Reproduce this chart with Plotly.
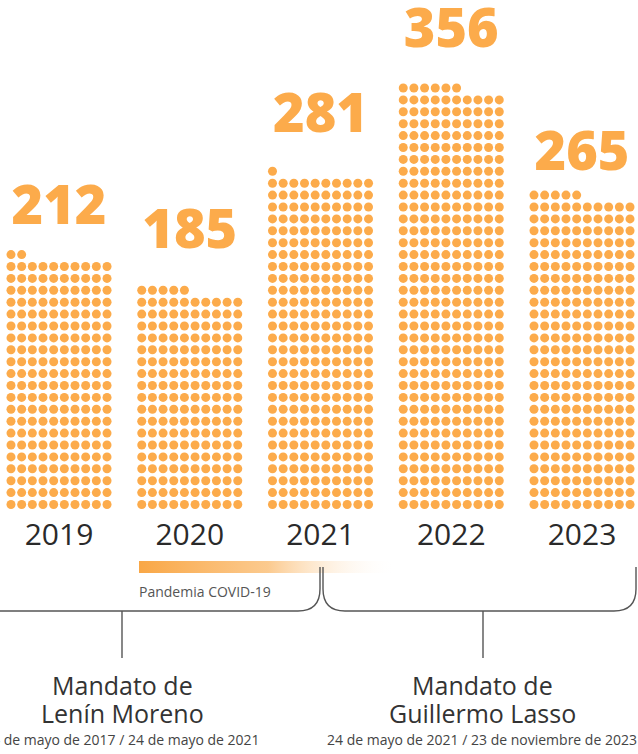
import plotly.graph_objects as go

# ---------------- data ----------------
years = ["2019", "2020", "2021", "2022", "2023"]
values = [212, 185, 281, 356, 265]
dots_per_row = 10
mandate_line1 = ["Mandato de", "Mandato de"]
mandate_line2 = ["Lenín Moreno", "Guillermo Lasso"]
mandate_dates = ["24 de mayo de 2017 / 24 de mayo de 2021",
                 "24 de mayo de 2021 / 23 de noviembre de 2023"]
pandemic_label = "Pandemia COVID-19"

# ---------------- layout constants (pixel canvas) ----------------
W, H = 638, 754
ORANGE = "#fcab4b"
group_x0, group_step = 59, 130.75
col_pitch, row_pitch = 10.67, 11.9
bottom_row_y = 504.5
label_gap = [44, 56, 53, 55, 39]   # distance from top dot row to value label centre
year_label_y = 537

fig = go.Figure()

# dots
for i, (yr, v) in enumerate(zip(years, values)):
    cx = group_x0 + i * group_step
    xs, ys = [], []
    for k in range(v):
        r, c = divmod(k, dots_per_row)
        xs.append(cx + (c - (dots_per_row - 1) / 2) * col_pitch)
        ys.append(bottom_row_y - r * row_pitch)
    fig.add_trace(go.Scatter(x=xs, y=ys, mode="markers", cliponaxis=False,
                             marker=dict(size=9, color=ORANGE, line=dict(width=0)),
                             hoverinfo="skip", showlegend=False))
    top_y = bottom_row_y - ((v - 1) // dots_per_row) * row_pitch
    fig.add_trace(go.Scatter(x=[cx], y=[top_y - label_gap[i]], mode="text", text=[str(v)],
                             textposition="middle center", cliponaxis=False,
                             textfont=dict(family="Open Sans", size=54, color=ORANGE, weight=800),
                             hoverinfo="skip", showlegend=False))
    fig.add_trace(go.Scatter(x=[cx], y=[year_label_y], mode="text", text=[yr],
                             textposition="middle center", cliponaxis=False,
                             textfont=dict(family="Open Sans", size=30, color="#2a2a2a", weight=400),
                             hoverinfo="skip", showlegend=False))

# pandemic gradient bar
bx0, bx1, by0, by1 = 139, 397, 561, 573
fig.add_trace(go.Scatter(x=[bx0, bx1, bx1, bx0, bx0], y=[by0, by0, by1, by1, by0],
                         mode="lines", line=dict(width=0), fill="toself",
                         fillgradient=dict(type="horizontal",
                                           colorscale=[[0, "rgba(249,167,70,1)"],
                                                       [0.5, "rgba(251,196,130,0.9)"],
                                                       [1, "rgba(255,255,255,0)"]]),
                         hoverinfo="skip", showlegend=False))
fig.add_annotation(x=bx0 - 2, y=591, text=pandemic_label, showarrow=False, xanchor="left",
                   yanchor="middle", font=dict(family="Open Sans", size=14, color="#555555"))

# brackets
LC = "#555555"
r = 22
fig.add_shape(type="path", path=f"M -20,611 L {320-r},611 Q 320,611 320,{611-r} L 320,567",
              line=dict(color=LC, width=1.4))
fig.add_shape(type="path",
              path=f"M 323,567 L 323,{611-r} Q 323,611 {323+r},611 L {636-r},611 Q 636,611 636,{611-r} L 636,567",
              line=dict(color=LC, width=1.4))
for sx in (122, 483):
    fig.add_shape(type="line", x0=sx, x1=sx, y0=611, y1=658, line=dict(color=LC, width=1.4))

# mandate texts
for sx, l1, l2, d in zip((122, 482), mandate_line1, mandate_line2, mandate_dates):
    fig.add_annotation(x=sx, y=685, text=l1, showarrow=False, xanchor="center", yanchor="middle",
                       font=dict(family="Open Sans", size=25, color="#333333"))
    fig.add_annotation(x=sx, y=713, text=l2, showarrow=False, xanchor="center", yanchor="middle",
                       font=dict(family="Open Sans", size=25, color="#333333"))
    fig.add_annotation(x=sx, y=739, text=d, showarrow=False, xanchor="center", yanchor="middle",
                       font=dict(family="Open Sans", size=14, color="#444444"))

fig.update_layout(width=W, height=H, margin=dict(l=0, r=0, t=0, b=0),
                  paper_bgcolor="white", plot_bgcolor="white",
                  xaxis=dict(range=[0, W], visible=False, fixedrange=True),
                  yaxis=dict(range=[H, 0], visible=False, fixedrange=True))
fig.write_html("out.html", config={"displayModeBar": False},
               post_script="document.body.style.margin='0px';document.body.style.overflow='hidden';")
